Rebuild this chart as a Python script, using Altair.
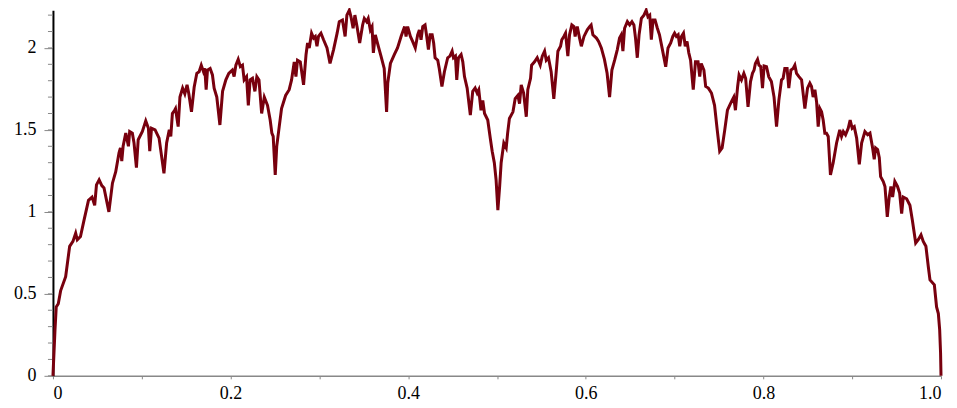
import altair as alt
import pandas as pd

# values (x, y)
xs = [0, 0.0023, 0.0037, 0.006, 0.0087, 0.0143, 0.0188, 0.0225, 0.0256, 0.0274, 0.031, 0.035, 0.040, 0.044, 0.047, 0.049, 0.052, 0.055, 0.0575, 0.063, 0.067, 0.0707, 0.0744, 0.076, 0.0775, 0.079, 0.082, 0.085, 0.0864, 0.0894, 0.0913, 0.094, 0.096, 0.1007, 0.1045, 0.1075, 0.109, 0.111, 0.115, 0.1195, 0.125,
      0.128, 0.131, 0.1327, 0.1345, 0.137, 0.138, 0.141, 0.143, 0.146, 0.1485, 0.151, 0.153, 0.156, 0.159, 0.162, 0.1646, 0.167, 0.1695, 0.171, 0.1725, 0.174, 0.177, 0.1796, 0.1815, 0.1845, 0.188, 0.191, 0.1947, 0.198, 0.202, 0.204, 0.206, 0.2086, 0.211, 0.2134, 0.2153, 0.218, 0.22, 0.222, 0.2247, 0.2274, 0.2296, 0.232, 0.235, 0.238, 0.2416, 0.2446, 0.2465, 0.248, 0.2503,
      0.252, 0.2548, 0.2574, 0.262, 0.266, 0.2687, 0.2717, 0.2736, 0.2754, 0.2785, 0.2822, 0.285, 0.2867, 0.2886, 0.2912, 0.2935, 0.2954, 0.2973, 0.299, 0.3018, 0.3047, 0.3086, 0.312, 0.316, 0.32, 0.3224, 0.326, 0.329, 0.331, 0.3337, 0.3356, 0.338, 0.340, 0.3424, 0.3454, 0.3487, 0.3506, 0.3532, 0.355, 0.3574, 0.3593, 0.3608, 0.363, 0.3664, 0.3694, 0.373, 0.3757, 0.377, 0.38,
      0.3845, 0.388, 0.392, 0.394, 0.396, 0.3976, 0.3994, 0.4025, 0.405, 0.408, 0.4107, 0.4126, 0.4145, 0.4164, 0.419, 0.4209, 0.4228, 0.4247, 0.427, 0.4287, 0.4303, 0.4333, 0.435, 0.438, 0.4408, 0.4445, 0.447, 0.4495, 0.451, 0.4532, 0.4547, 0.4566, 0.4596, 0.4615, 0.4634, 0.4664, 0.470, 0.4727, 0.4754, 0.4777, 0.4795, 0.482, 0.484, 0.486, 0.4896, 0.4927, 0.4946, 0.497, 0.499, 0.501,
      0.503, 0.5047, 0.5077, 0.5104, 0.512, 0.514, 0.518, 0.5205, 0.5235, 0.5254, 0.5273, 0.530, 0.533, 0.5347, 0.5378, 0.539, 0.5423, 0.5453, 0.5487, 0.551, 0.5536, 0.5555, 0.558, 0.561, 0.564, 0.5667, 0.5686, 0.5716, 0.573, 0.5753, 0.5772, 0.5798, 0.5817, 0.5843, 0.5866, 0.588, 0.5904, 0.593, 0.595, 0.598, 0.6017, 0.6043, 0.606, 0.608, 0.612, 0.6144, 0.6175, 0.621,
      0.624, 0.6268, 0.6294, 0.6325, 0.6355, 0.638, 0.64, 0.6418, 0.6437, 0.6468, 0.6494, 0.652, 0.6542, 0.656, 0.658, 0.66, 0.6626, 0.6655, 0.668, 0.670, 0.672, 0.6738, 0.6757, 0.678, 0.6806, 0.683, 0.687, 0.690, 0.6926, 0.6956, 0.698, 0.700, 0.702, 0.704, 0.7058, 0.7077, 0.710, 0.712, 0.714, 0.716, 0.718, 0.721, 0.7235, 0.7264, 0.7283, 0.730, 0.733, 0.735, 0.738, 0.7415,
      0.745, 0.748, 0.7508, 0.7535, 0.7565, 0.7595, 0.762, 0.7647, 0.7666, 0.7685, 0.771, 0.7726, 0.7753, 0.778, 0.780, 0.7827, 0.7855, 0.7877, 0.7895, 0.791, 0.7934, 0.795, 0.797, 0.799, 0.8008, 0.8035, 0.806, 0.809, 0.812, 0.8148, 0.8174, 0.8204, 0.8222, 0.8241, 0.8267, 0.8286, 0.831, 0.8335, 0.8354, 0.8373, 0.840, 0.843, 0.8467, 0.8497, 0.8523, 0.8542, 0.856, 0.858, 0.8599, 0.8617, 0.8636, 0.8655, 0.8673, 0.8692, 0.871, 0.873, 0.8755,
      0.8786, 0.8824, 0.886, 0.888, 0.890, 0.8925, 0.8955, 0.8977, 0.900, 0.9023, 0.905, 0.908, 0.9106, 0.9143, 0.9174, 0.920, 0.923, 0.9248, 0.9264, 0.9286, 0.9305, 0.932, 0.935, 0.9369, 0.9395, 0.9417, 0.9436, 0.9455, 0.948, 0.951, 0.9534, 0.9557, 0.9575, 0.9613, 0.965, 0.9677, 0.9715, 0.9744, 0.9775, 0.980, 0.983, 0.9857, 0.9876, 0.9925, 0.995, 0.997, 0.9985, 0.9995, 1.0]
ys = [0, 0.28, 0.42, 0.44, 0.52, 0.605, 0.79, 0.82, 0.87, 0.83, 0.85, 0.95, 1.07, 1.09, 1.04, 1.165, 1.195, 1.16, 1.146, 1.0, 1.175, 1.245, 1.36, 1.39, 1.31, 1.40, 1.48, 1.40, 1.49, 1.48, 1.42, 1.27, 1.44, 1.49, 1.555, 1.51, 1.37, 1.51, 1.50, 1.45, 1.235,
      1.42, 1.50, 1.46, 1.60, 1.62, 1.63, 1.52, 1.70, 1.755, 1.72, 1.775, 1.72, 1.61, 1.76, 1.845, 1.855, 1.895, 1.855, 1.875, 1.745, 1.865, 1.875, 1.835, 1.755, 1.70, 1.53, 1.735, 1.805, 1.845, 1.865, 1.825, 1.895, 1.93, 1.886, 1.895, 1.805, 1.825, 1.65, 1.805, 1.815, 1.735, 1.825, 1.805, 1.60, 1.70, 1.65, 1.56, 1.48, 1.46, 1.225,
      1.40, 1.52, 1.63, 1.71, 1.745, 1.805, 1.915, 1.825, 1.925, 1.915, 1.775, 1.96, 2.03, 2.0, 2.09, 2.06, 2.07, 2.01, 2.07, 2.09, 2.05, 2.0, 1.905, 1.99, 2.09, 2.16, 2.17, 2.07, 2.20, 2.23, 2.19, 2.12, 2.20, 2.13, 2.03, 2.14, 2.18, 2.16, 2.18, 2.11, 2.13, 1.97, 2.08, 2.01, 1.95, 1.875, 1.61, 1.785, 1.905,
      1.96, 2.0, 2.07, 2.10, 2.13, 2.07, 2.13, 2.07, 2.04, 2.0, 2.08, 2.11, 2.05, 2.13, 2.14, 2.07, 1.99, 2.08, 2.08, 2.03, 1.94, 1.925, 1.875, 1.765, 1.855, 1.94, 1.95, 1.98, 1.94, 1.95, 1.805, 1.94, 1.96, 1.915, 1.825, 1.755, 1.59, 1.735, 1.755, 1.725, 1.745, 1.62, 1.68, 1.60, 1.56, 1.44, 1.37, 1.30, 1.195, 1.01,
      1.155, 1.30, 1.42, 1.39, 1.48, 1.57, 1.61, 1.69, 1.71, 1.66, 1.775, 1.725, 1.58, 1.745, 1.815, 1.895, 1.915, 1.94, 1.895, 1.95, 1.98, 1.925, 1.94, 1.855, 1.69, 1.855, 1.98, 2.01, 2.05, 2.07, 2.09, 1.95, 2.08, 2.14, 2.13, 2.07, 2.13, 2.06, 2.01, 2.07, 2.11, 2.13, 2.14, 2.08, 2.06, 2.04, 2.0, 1.93,
      1.845, 1.70, 1.865, 1.925, 1.99, 2.06, 2.08, 1.98, 2.12, 2.16, 2.14, 2.16, 2.14, 2.06, 1.94, 2.08, 2.18, 2.20, 2.23, 2.19, 2.20, 2.05, 2.17, 2.17, 2.12, 2.08, 1.97, 1.885, 2.0, 2.03, 2.07, 2.09, 2.07, 2.08, 2.01, 2.07, 2.09, 2.01, 2.04, 1.97, 1.925, 1.745, 1.915, 1.915, 1.825, 1.905, 1.865, 1.765, 1.755, 1.725,
      1.65, 1.50, 1.37, 1.39, 1.50, 1.62, 1.65, 1.68, 1.70, 1.62, 1.765, 1.835, 1.805, 1.845, 1.815, 1.64, 1.795, 1.845, 1.865, 1.905, 1.93, 1.895, 1.886, 1.755, 1.89, 1.886, 1.825, 1.795, 1.70, 1.52, 1.68, 1.805, 1.815, 1.875, 1.875, 1.755, 1.865, 1.875, 1.895, 1.845, 1.825, 1.805, 1.63, 1.755, 1.785, 1.765, 1.70, 1.745, 1.67, 1.52, 1.63, 1.61, 1.56, 1.48, 1.48, 1.46, 1.225,
      1.30, 1.42, 1.50, 1.46, 1.49, 1.47, 1.51, 1.56, 1.51, 1.52, 1.45, 1.29, 1.42, 1.49, 1.47, 1.48, 1.39, 1.32, 1.39, 1.38, 1.33, 1.215, 1.185, 1.155, 0.97, 1.09, 1.155, 1.09, 1.185, 1.155, 1.115, 0.99, 1.09, 1.08, 1.04, 0.95, 0.81, 0.83, 0.86, 0.82, 0.79, 0.665, 0.585, 0.555, 0.42, 0.38, 0.28, 0.14, 0.0]

y_major = [0, 0.5, 1, 1.5, 2]
y_minor = [round(i * 0.1, 1) for i in range(23)]
x_ticks = [round(i * 0.1, 1) for i in range(11)]

df = pd.DataFrame({"x": xs, "y": ys})
FONT = "Liberation Serif"

xscale = alt.Scale(domain=[0, 1], nice=False, zero=False)
yscale = alt.Scale(domain=[0, 2.23], nice=False, zero=False)

line = alt.Chart(df).mark_line(color="#78000E", strokeWidth=3, clip=False).encode(
    x=alt.X("x:Q", scale=xscale, title=None,
            axis=alt.Axis(values=x_ticks, tickSize=3, tickColor="#888888", domainColor="#888888",
                          domainWidth=1.5, grid=False, labelFont=FONT, labelFontSize=18,
                          labelColor="black", labelPadding=6,
                          labelExpr="round(datum.value*10) % 2 == 0 ? (datum.value == 1 ? '1.0' : format(datum.value, '~g')) : ''")),
    y=alt.Y("y:Q", scale=yscale, title=None,
            axis=alt.Axis(values=y_major, tickSize=9, tickColor="#888888", domainColor="black",
                          domainWidth=2, grid=False, labelFont=FONT, labelFontSize=18,
                          labelColor="black", labelPadding=8, format="~g")),
    order="x:Q",
)

minor = alt.Chart(pd.DataFrame({"v": y_minor})).mark_rule(color="#888888", strokeWidth=1).encode(
    y=alt.Y("v:Q", scale=yscale),
    x=alt.value(-5),
    x2=alt.value(0),
)

chart = alt.layer(minor, line).properties(
    width=889, height=366,
    autosize=alt.AutoSizeParams(type="none"),
    padding={"left": 45, "top": 2, "right": 8, "bottom": 30},
).configure_view(stroke=None)

chart.save("out.html", embed_options={"renderer": "svg", "actions": False})
